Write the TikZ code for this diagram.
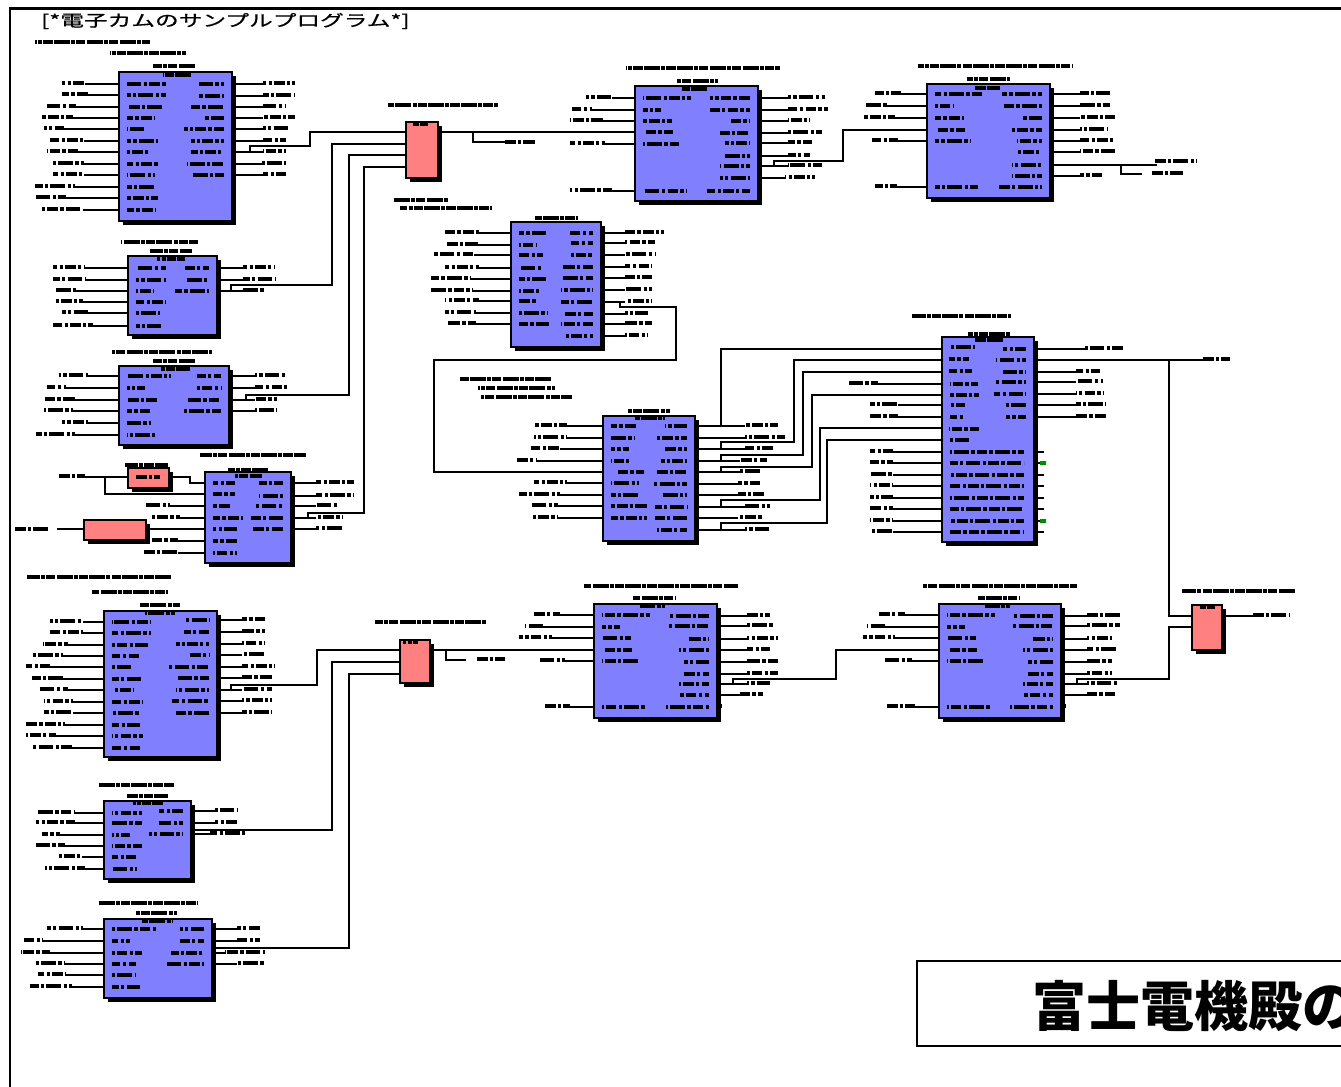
\documentclass[tikz,border=0pt]{standalone}
\usepackage{fontspec}
\newfontfamily\cjk{Noto Sans CJK JP}
\newfontfamily\cjkm[FakeBold=0.6]{Noto Sans CJK JP}
\usetikzlibrary{shadows}
\definecolor{blockblue}{HTML}{8080FF}
\definecolor{blockpink}{HTML}{FF8080}
\tikzset{
  shade3/.style={drop shadow={shadow xshift=3pt,shadow yshift=-3pt,fill=black,opacity=1}},
  bluebox/.style={draw=black,line width=1.6pt,fill=blockblue,inner sep=0pt,outer sep=0pt,shade3},
  pinkbox/.style={draw=black,line width=1.6pt,fill=blockpink,inner sep=0pt,outer sep=0pt,shade3},
  pin/.style={draw=black,line width=1.15pt},
  wire/.style={draw=black,line width=1.5pt},
  blob/.style={draw=black,line width=3pt,dash pattern=on 8pt off 1.6pt on 2.5pt off 1.6pt on 11pt off 2pt on 2.5pt off 1.6pt},
  tblob/.style={draw=black,line width=3pt,dash pattern=on 12pt off .8pt on 3pt off .8pt on 7pt off 1pt},
}
% illegible small print of the source is shown as bars
\newcommand\blk[6]{\node[#1,minimum width={(#4-#2)*0.75pt},minimum height={(#5-#3)*0.75pt}] (#6) at ({(#2+#4)/2},{(#3+#5)/2}) {};}
\newcommand\Lpins[2]{\foreach \y/\a/\b/\i in {#2}{
  \draw[pin] (\b,\y) -- (#1.west |- 0,\y);
  \draw[blob,dash phase=\y] (\a,\y-1) -- (\b,\y-1);
  \draw[blob,dash phase=\y*2] ([xshift=6pt]#1.west |- 0,\y) -- ++(\i,0);}}
\newcommand\Rpins[2]{\foreach \y/\e/\f/\i in {#2}{
  \draw[pin] (#1.east |- 0,\y) -- (\e,\y);
  \draw[blob,dash phase=\y] (\e,\y-1) -- (\f,\y-1);
  \draw[blob,dash phase=\y*3] ([xshift=-6pt]#1.east |- 0,\y) -- ++(-\i,0);}}
\newcommand\tb[3]{\draw[tblob,dash phase=#1] (#1,#3) -- (#2,#3);}
\begin{document}
\begin{tikzpicture}[x=0.75pt,y=-0.75pt]
\useasboundingbox (0,0) rectangle (1341,1087);
\clip (0,0) rectangle (1341,1087);
\fill[white] (0,0) rectangle (1341,1087);
% frame
\draw[black,line width=2pt] (10,1100) -- (10,8.5) -- (1350,8.5);
\node[anchor=west,inner sep=0pt] (heading) at (41,21) {\scalebox{1.48}[1]{\fontsize{12pt}{12pt}\cjkm [*電子カムのサンプルプログラム*]}};
\blk{bluebox}{119}{72}{232}{221}{A}
\blk{bluebox}{128}{256}{217}{335}{B}
\blk{bluebox}{119}{366}{229}{445}{C}
\blk{bluebox}{205}{472}{291}{563}{D}
\blk{pinkbox}{128}{468}{169}{488}{S}
\blk{pinkbox}{84}{520}{146}{540}{T}
\blk{pinkbox}{406}{122}{438}{178}{P1}
\blk{bluebox}{635}{86}{758}{201}{E}
\blk{bluebox}{927}{84}{1050}{198}{F}
\blk{bluebox}{511}{222}{601}{347}{G}
\blk{bluebox}{603}{416}{695}{541}{H}
\blk{bluebox}{942}{337}{1034}{542}{I}
\blk{bluebox}{104}{611}{217}{757}{J}
\blk{bluebox}{104}{801}{191}{879}{K}
\blk{bluebox}{104}{919}{212}{998}{L}
\blk{pinkbox}{400}{640}{430}{683}{P2}
\blk{bluebox}{594}{604}{717}{718}{M}
\blk{bluebox}{939}{604}{1061}{718}{N}
\blk{pinkbox}{1192}{605}{1222}{650}{P3}
% pins
\Lpins{A}{84/62/85/39,95/62/88/39,107/47/76/36,118/41/73/28,129/44/64/19,141/50/84/31,152/47/78/22,164/53/84/31,175/53/84/28,187/35/75/28,198/35/66/31,210/40/83/28}
\Rpins{A}{84/263/295/25,96/263/295/25,107/263/285/33,118/263/295/20,129/263/290/40,141/263/286/33,152/263/286/33,164/262/286/37,175/263/286/33}
\Lpins{B}{268/53/85/30,280/53/85/30,291/56/76/18,302/53/83/30,313/62/88/24,326/53/93/25}
\Rpins{B}{268/243/275/24,280/243/275/24,291/243/265/34}
\Lpins{C}{376/59/88/44,388/47/66/18,400/44/75/30,411/44/73/24,423/62/88/24,435/36/75/28}
\Rpins{C}{376/255/287/24,388/255/287/24,400/255/277/33,411/255/277/37}
\Lpins{D}{506/145/170/18,518/150/180/30,541/152/178/24,553/142/178/24}
\Rpins{D}{483/316/354/24,496/316/354/24,506/316/338/28,518/316/342/32,529/316/342/32}
\Lpins{E}{98/586/612/48,110/572/592/18,121/570/603/29,144/570/605/36,191/570/612/43}
\Rpins{E}{98/788/825/40,110/788/828/40,121/788/810/20,133/788/822/30,143/788/812/25,156/788/810/25,166/788/822/30,178/785/815/30,191/760/762/43}
\Lpins{F}{94/875/901/48,106/866/887/18,118/863/895/29,141/872/898/36,187/875/897/43}
\Rpins{F}{94/1080/1110/40,106/1080/1110/40,118/1080/1115/20,130/1080/1108/30,141/1080/1115/25,152/1080/1115/25,176/1080/1103/30,187/1052/1054/43}
\Lpins{G}{233/445/479/27,245/445/478/18,255/433/474/24,268/445/479/22,279/431/470/27,291/431/472/20,301/445/479/18,313/445/476/28,324/448/476/30}
\Rpins{G}{233/625/664/23,243/625/655/22,255/625/655/22,267/625/652/30,278/625/652/32,290/625/652/32,302/625/652/32,314/625/648/28,324/625/652/32,336/625/648/28}
\Lpins{H}{426/534/567/26,438/534/567/24,449/531/560/18,461/516/537/18,483/534/567/28,495/519/560/28,506/531/558/36,518/531/558/36}
\Rpins{H}{426/745/778/22,438/745/785/30,449/745/773/22,461/740/767/26,472/740/762/30,484/738/762/34,495/738/764/26,507/745/770/32,518/738/762/32,530/745/770/30}
\Lpins{I}{384/849/878/28,405/870/898/15,417/870/898/15,452/870/893/74,463/870/893/74,475/870/893/74,486/870/893/74,498/870/893/74,509/870/893/74,521/870/893/74,532/870/893/74}
\Rpins{I}{349/1085/1124/23,372/1076/1100/25,382/1076/1103/32,394/1076/1103/32,405/1076/1106/20,417/1076/1106/20}
\foreach \y/\i in {347/26,359/20,371/23,395/30,429/30,440/20}{\draw[blob,dash phase=\y] ([xshift=5pt]I.west |- 0,\y) -- ++(\i,0);}
\foreach \y in {452,463,475,486,498,509,521,532}{\draw[pin] (I.east |- 0,\y) -- ++(10,0);}
\fill[green!55!black] (1040,461) rectangle (1046,465) (1040,519) rectangle (1046,523);
\Lpins{J}{622/50/83/39,633/50/83/39,645/43/68/36,656/32/63/28,667/26/50/19,679/32/63/31,690/38/68/22,702/44/73/31,713/44/73/28,725/26/65/28,736/26/56/31,748/32/72/28}
\Rpins{J}{620/242/265/25,632/242/265/25,644/242/265/33,655/242/265/20,667/242/275/40,678/242/272/33,690/242/272/33,701/242/272/37,713/242/272/33}
\Lpins{K}{813/36/75/30,823/36/75/30,835/42/60/18,846/36/65/30,857/57/82/24,869/45/85/25}
\Rpins{K}{811/215/238/24,823/215/238/24,834/210/245/34}
\Lpins{L}{929/47/83/44,941/24/43/18,953/21/50/30,964/35/65/24,975/38/65/24,987/30/72/28}
\Rpins{L}{929/237/260/24,941/237/260/24,953/225/265/33,964/237/265/37}
\Lpins{M}{615/533/560/48,627/525/543/18,638/519/552/29,661/540/565/36,707/543/570/43}
\Rpins{M}{616/747/770/40,626/747/773/40,639/747/778/20,650/747/770/30,662/747/778/25,674/747/778/25,684/747/770/30,695/740/763/30,707/719/722/43}
\Lpins{N}{615/878/905/48,627/867/885/18,638/863/895/29,661/885/912/36,707/885/915/43}
\Rpins{N}{616/1087/1120/40,626/1087/1120/40,639/1087/1112/20,650/1087/1118/30,662/1087/1112/25,674/1087/1112/25,684/1087/1118/30,695/1087/1115/30,707/1063/1066/43}
% small pink blocks and their free inputs
\coordinate (sin) at (85,477);
\draw[blob] (59,476) -- (85,476);
\draw[pin] (sin) -- (S.west |- 0,477);
\draw[blob] ([xshift=6pt]S.west |- 0,477) -- ++(24,0);
\draw[wire] (105,477) -- (105,494) -- (D.west |- 0,494);
\draw[wire] (S.east |- 0,477) -- (190,477) -- (190,483) -- (D.west |- 0,483);
\coordinate (tin) at (57,529);
\draw[blob] (15,529) -- (50,529);
\draw[pin] (tin) -- (T.west |- 0,529);
\draw[wire] (T.east |- 0,529) -- (D.west |- 0,529);
\foreach \y/\i in {483/22,494/22,529/24}{\draw[blob,dash phase=\y] ([xshift=6pt]D.west |- 0,\y) -- ++(\i,0);}
% connectors
\draw[wire] (A.east |- 0,152) -- (250,152) -- (250,146) -- (310,146) -- (310,132) -- (P1.west |- 0,132);
\draw[wire] (B.east |- 0,291) -- (231,291) -- (231,285) -- (332,285) -- (332,144) -- (P1.west |- 0,144);
\draw[wire] (C.east |- 0,400) -- (246,400) -- (246,395) -- (349,395) -- (349,155) -- (P1.west |- 0,155);
\draw[wire] (D.east |- 0,518) -- (308,518) -- (308,513) -- (364,513) -- (364,167) -- (P1.west |- 0,167);
\draw[wire] (P1.east |- 0,132) -- (E.west |- 0,132);
\draw[wire] (473,132) -- (473,142) -- (505,142);
\draw[blob] (505,142) -- (535,142);
\draw[blob] ([xshift=8pt]E.west |- 0,132) -- ++(27,0);
\draw[wire] (E.east |- 0,166) -- (774,166) -- (774,161) -- (843,161) -- (843,130) -- (F.west |- 0,130);
\draw[blob] ([xshift=8pt]F.west |- 0,130) -- ++(27,0);
\draw[wire] (F.east |- 0,165) -- (1157,165);
\draw[blob] (1155,161) -- (1197,161);
\draw[blob,dash phase=9] ([xshift=-6pt]F.east |- 0,165) -- ++(-30,0);
\draw[wire] (1121,165) -- (1121,174) -- (1142,174);
\draw[blob] (1152,173) -- (1183,173);
\draw[wire] (G.east |- 0,302) -- (620,302) -- (620,307) -- (676,307) -- (676,360) -- (434,360) -- (434,472) -- (H.west |- 0,472);
\draw[blob] ([xshift=11pt]H.west |- 0,472) -- ++(26,0);
\draw[wire] (H.east |- 0,426) -- (721,426) -- (721,349) -- (I.west |- 0,349);
\draw[wire] (H.east |- 0,449) -- (721,449) -- (721,442) -- (794,442) -- (794,360) -- (I.west |- 0,360);
\draw[wire] (H.east |- 0,461) -- (721,461) -- (721,455) -- (803,455) -- (803,372) -- (I.west |- 0,372);
\draw[wire] (H.east |- 0,472) -- (721,472) -- (721,467) -- (812,467) -- (812,395) -- (I.west |- 0,395);
\draw[wire] (H.east |- 0,507) -- (721,507) -- (721,500) -- (820,500) -- (820,428) -- (I.west |- 0,428);
\draw[wire] (H.east |- 0,530) -- (721,530) -- (721,523) -- (827,523) -- (827,440) -- (I.west |- 0,440);
\draw[wire] (I.east |- 0,360) -- (1205,360);
\draw[blob] (1203,359) -- (1230,359);
\draw[blob,dash phase=5] ([xshift=-6pt]I.east |- 0,360) -- ++(-30,0);
\draw[wire] (1169,360) -- (1169,616) -- (P3.west |- 0,616);
\draw[wire] (P3.east |- 0,616) -- (1255,616);
\draw[blob] (1253,615) -- (1290,615);
\draw[wire] (N.east |- 0,684) -- (1077,684) -- (1077,679) -- (1169,679) -- (1169,627) -- (P3.west |- 0,627);
\draw[wire] (J.east |- 0,690) -- (231,690) -- (231,685) -- (317,685) -- (317,650) -- (P2.west |- 0,650);
\draw[wire] (K.east |- 0,830) -- (332,830) -- (332,662) -- (P2.west |- 0,662);
\draw[wire] (L.east |- 0,948) -- (349,948) -- (349,674) -- (P2.west |- 0,674);
\draw[wire] (P2.east |- 0,650) -- (M.west |- 0,650);
\draw[wire] (446,650) -- (446,660) -- (466,660);
\draw[blob] (477,659) -- (505,659);
\draw[blob] ([xshift=8pt]M.west |- 0,650) -- ++(27,0);
\draw[wire] (M.east |- 0,684) -- (733,684) -- (733,679) -- (836,679) -- (836,650) -- (N.west |- 0,650);
\draw[blob] ([xshift=8pt]N.west |- 0,650) -- ++(27,0);
% title bars
\tb{35}{150}{42}
\tb{110}{186}{53}\tb{153}{195}{66}\tb{163}{192}{75}
\tb{121}{198}{242}\tb{150}{192}{251}\tb{157}{185}{259}
\tb{112}{212}{352}\tb{153}{195}{361}\tb{160}{190}{369}
\tb{200}{306}{455}\tb{228}{268}{470}\tb{235}{262}{476}
\tb{125}{168}{465}
\tb{626}{780}{68}\tb{677}{718}{81}\tb{682}{708}{89}
\tb{918}{1072}{66}\tb{967}{1010}{79}\tb{975}{1000}{88}
\tb{388}{498}{105}\tb{413}{428}{124}
\tb{393}{448}{200}\tb{400}{492}{208}\tb{535}{578}{218}
\tb{460}{552}{379}\tb{478}{555}{388}\tb{481}{572}{397}\tb{628}{670}{411}\tb{635}{665}{418}
\tb{912}{1011}{316}\tb{968}{1010}{334}\tb{975}{1003}{340}
\tb{27}{172}{577}\tb{92}{168}{592}\tb{139}{180}{605}\tb{145}{175}{613}
\tb{98}{174}{785}\tb{127}{168}{796}\tb{133}{163}{803}
\tb{98}{198}{903}\tb{136}{177}{913}\tb{142}{172}{921}
\tb{584}{738}{586}\tb{633}{675}{598}\tb{640}{665}{606}
\tb{923}{1077}{586}\tb{978}{1020}{598}\tb{985}{1010}{606}
\tb{375}{487}{622}\tb{403}{418}{642}
\tb{1182}{1295}{591}\tb{1200}{1215}{607}
% bottom note
\node[draw=black,line width=1.2pt,fill=white,minimum width={443*0.75pt},minimum height={85*0.75pt},inner sep=0pt,outer sep=0pt] (note) at (1138.5,1003.5) {};
\node[anchor=west,inner sep=0pt] (notetext) at (1032,1006) {\fontsize{40.5pt}{40.5pt}\cjk\bfseries 富士電機殿の};
\end{tikzpicture}
\end{document}
